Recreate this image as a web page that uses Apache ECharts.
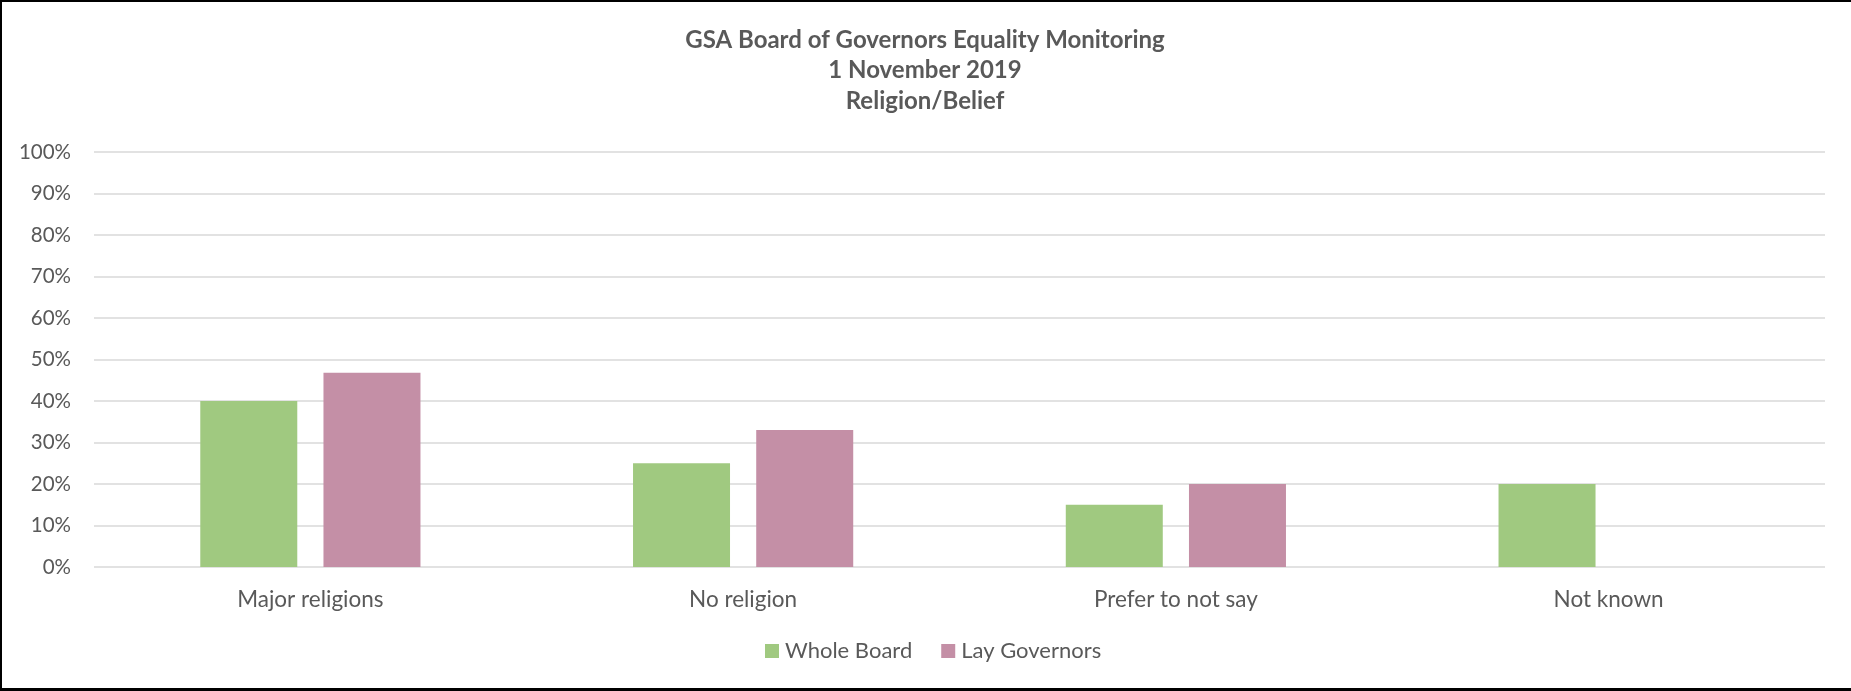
<!DOCTYPE html>
<html lang="en">

<head>
    <meta charset="UTF-8">
    <title>GSA Board of Governors Equality Monitoring</title>
    <style>
        body { margin: 0; background: #fff; }
        #BarChart { position: absolute; left: 0; top: 0; width: 1851px; height: 691px; }
        #Frame {
            position: absolute; left: 0; top: 0; width: 1851px; height: 691px; box-sizing: border-box;
            border-left: 2px solid #000; border-top: 2px solid #000; border-bottom: 3px solid #000;
            pointer-events: none;
        }
    </style>
</head>

<body onload="setup()">

    <div id="BarChart"></div>
    <div id="Frame"></div>
    <script src="https://cdn.jsdelivr.net/npm/echarts@6/dist/echarts.min.js"></script>
    <script>
        // values in percent
        var categories = ['Major religions', 'No religion', 'Prefer to not say', 'Not known']
        var wholeBoard = [40, 25, 15, 20]
        var layGovernors = [46.8, 33, 20, 0]
        var yTicks = [0, 10, 20, 30, 40, 50, 60, 70, 80, 90, 100]

        var titleLines = ['GSA Board of Governors Equality Monitoring', '1 November 2019', 'Religion/Belief']
        var textColor = '#595959'
        var font = 'Lato'

        var BarChart;
        function setup() {
            BarChart = echarts.init(document.getElementById('BarChart'))
            BarChart.setOption(barChartOption, true)
        }

        function newSeries(name, inpData, color) {
            return {
                name: name,
                type: 'bar',
                barWidth: 97,
                barGap: '27%',
                itemStyle: { color: color },
                data: inpData
            }
        }

        var barChartOption = {
            animation: false,
            textStyle: { fontFamily: font },
            title: {
                text: titleLines.join('\n'),
                left: 920,
                textAlign: 'center',
                top: 20,
                textStyle: {
                    fontFamily: font,
                    fontSize: 24,
                    fontWeight: 'bold',
                    lineHeight: 30.5,
                    color: textColor
                }
            },
            legend: {
                top: 635,
                left: 760,
                icon: 'rect',
                itemWidth: 14,
                itemHeight: 14,
                itemGap: 29,
                textStyle: { fontFamily: font, fontSize: 22, color: textColor, padding: [0, 0, 0, 1] }
            },
            grid: {
                left: 94,
                right: 26,
                top: 152,
                bottom: 124,
                containLabel: false
            },
            xAxis: {
                type: 'category',
                data: categories,
                axisLine: { show: false },
                axisTick: { show: false },
                axisLabel: { margin: 21, fontFamily: font, fontSize: 22.5, color: textColor }
            },
            yAxis: {
                type: 'value',
                min: yTicks[0],
                max: yTicks[yTicks.length - 1],
                interval: yTicks[1] - yTicks[0],
                axisLine: { show: false },
                axisTick: { show: false },
                axisLabel: { margin: 23, fontFamily: font, fontSize: 20.5, color: textColor, formatter: '{value}%' },
                splitLine: { lineStyle: { color: '#d9d9d9', width: 1.5 } }
            },
            series: [
                newSeries('Whole Board', wholeBoard, '#a0c980'),
                newSeries('Lay Governors', layGovernors, '#c48fa6')
            ]
        }
    </script>
</body>

</html>
